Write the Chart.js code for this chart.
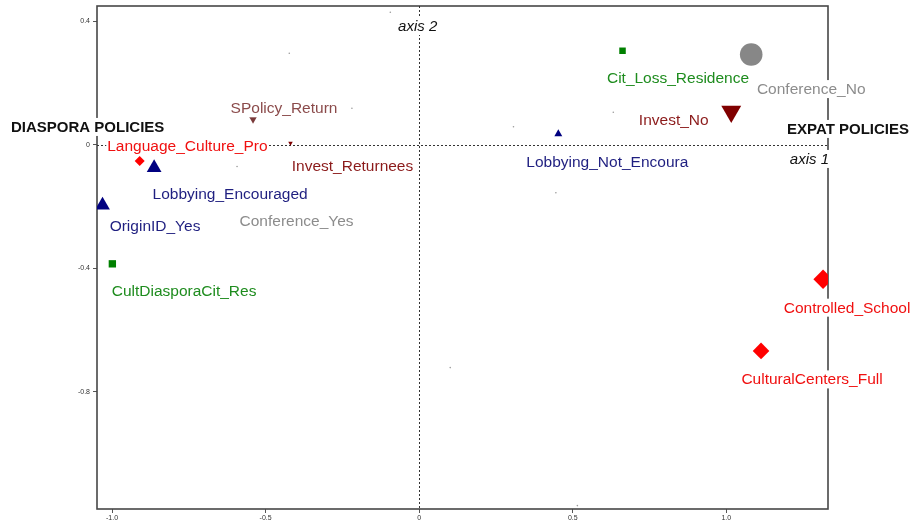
<!DOCTYPE html>
<html>
<head>
<meta charset="utf-8">
<script src="https://cdn.jsdelivr.net/npm/chart.js@4.4.1/dist/chart.umd.min.js"></script>
<style>
  html, body { margin: 0; padding: 0; background: #fff; }
  #wrap { width: 911px; height: 526px; position: relative; }
</style>
</head>
<body>
<div id="wrap"><canvas id="mcaChart"></canvas></div>
<script>
// modalities and their coordinates on the first two axes
const categories = ['Conference_No', 'Cit_Loss_Residence', 'Invest_No', 'Lobbying_Not_Encoura', 'SPolicy_Return',
    'Invest_Returnees', 'Language_Culture_Pro', 'Lobbying_Encouraged', 'OriginID_Yes', 'Conference_Yes',
    'CultDiasporaCit_Res', 'Controlled_School', 'CulturalCenters_Full'];
const axis1 = [1.081, 0.662, 1.016, 0.453, -0.541, -0.419, -0.910, -0.863, -1.031, -0.593, -0.999, 1.315, 1.113];
const axis2 = [0.293, 0.305, 0.108, 0.036, 0.083, 0.006, -0.052, -0.074, -0.195, -0.070, -0.385, -0.435, -0.667];

// unlabelled modalities (tiny dots)
const minorAxis1 = [-0.094, -0.423, -0.219, 0.307, 0.632, 0.445, 0.101, 0.515];
const minorAxis2 = [0.430, 0.297, 0.119, 0.059, 0.106, -0.155, -0.721, -1.168];

const xTicks = [-1, -0.5, 0, 0.5, 1];
const xTickLabels = ['-1.0', '-0.5', '0', '0.5', '1.0'];
const yTicks = [0.4, 0, -0.4, -0.8];
const yTickLabels = ['0.4', '0', '-0.4', '-0.8'];

// marker / label styling
const markerShape = ['circle', 'rect', 'triangle', 'triangle', 'triangle', 'triangle', 'rectRot', 'triangle', 'triangle', 'circle', 'rect', 'rectRot', 'rectRot'];
const markerRotation = [0, 0, 180, 0, 180, 180, 0, 0, 0, 0, 0, 0, 0];
const markerRadius = [11.3, 4.6, 11.5, 4.6, 4.4, 2.6, 5, 8.5, 8.5, 0.8, 5.2, 9.7, 8.3];
const markerColor = ['#878787', '#008000', '#800000', '#000080', '#7a3a3a', '#800000', '#ff0000', '#000080', '#000080', '#999999', '#008000', '#ff0000', '#ff0000'];
const labelColor = ['#8c8c8c', '#1e8c1e', '#8b1a1a', '#1f1f80', '#8b4b4b', '#8b1a1a', '#f01010', '#1f1f80', '#1f1f80', '#8c8c8c', '#1e8c1e', '#f01010', '#f01010'];
const labelOffset = [[60, 33.6], [55.5, 26], [-57.5, 7.5], [49, 27.5], [31, -12], [62, 22.5], [47.7, -16], [76, 25.5], [52.5, 20], [59.5, 54], [71.7, 26.3], [24, 27.4], [51, 27.5]];

const FONT = '"Liberation Sans", Arial, sans-serif';

const framePlugin = {
    id: 'frame',
    beforeDatasetsDraw(chart) {
        const { ctx, chartArea: a, scales } = chart;
        const x0 = scales.x.getPixelForValue(0);
        const y0 = scales.y.getPixelForValue(0);
        ctx.save();
        ctx.strokeStyle = '#474747';
        ctx.lineWidth = 1.6;
        ctx.strokeRect(a.left, a.top, a.right - a.left, a.bottom - a.top);
        ctx.lineWidth = 1;
        ctx.strokeStyle = '#333';
        ctx.setLineDash([2, 2]);
        ctx.beginPath();
        ctx.moveTo(a.left, Math.round(y0) + 0.5);
        ctx.lineTo(a.right, Math.round(y0) + 0.5);
        ctx.moveTo(Math.round(x0) + 0.5, a.top);
        ctx.lineTo(Math.round(x0) + 0.5, a.bottom);
        ctx.stroke();
        ctx.restore();
    }
};

// text with a white box behind it (hides the lines it crosses)
const drawBoxedText = (ctx, text, x, y, align) => {
    const w = ctx.measureText(text).width;
    let left = x - w / 2;
    if (align === 'left') left = x;
    if (align === 'right') left = x - w;
    const fill = ctx.fillStyle;
    ctx.fillStyle = '#fff';
    ctx.fillRect(left - 1, y - 8, w + 2, 18);
    ctx.fillStyle = fill;
    ctx.textAlign = align || 'center';
    ctx.fillText(text, x, y + 1.6);
};

const labelPlugin = {
    id: 'labels',
    afterDatasetsDraw(chart) {
        const { ctx, chartArea: a, scales } = chart;
        const x0 = scales.x.getPixelForValue(0);
        const y0 = scales.y.getPixelForValue(0);
        ctx.save();
        ctx.textBaseline = 'middle';
        ctx.font = '15.5px ' + FONT;
        categories.forEach((name, i) => {
            const px = scales.x.getPixelForValue(axis1[i]) + labelOffset[i][0];
            const py = scales.y.getPixelForValue(axis2[i]) + labelOffset[i][1];
            ctx.fillStyle = labelColor[i];
            drawBoxedText(ctx, name, px, py);
        });

        ctx.fillStyle = '#111';
        ctx.font = 'bold 15px ' + FONT;
        drawBoxedText(ctx, 'DIASPORA POLICIES', 11, y0 - 19, 'left');
        drawBoxedText(ctx, 'EXPAT POLICIES', 909, y0 - 17, 'right');
        ctx.font = 'italic 15px ' + FONT;
        drawBoxedText(ctx, 'axis 1', a.right + 1, y0 + 13, 'right');
        drawBoxedText(ctx, 'axis 2', x0 - 1.5, a.top + 19, 'center');
        ctx.restore();
    }
};

const ctx = document.getElementById('mcaChart');
new Chart(ctx, {
    type: 'scatter',
    data: {
        datasets: [
            {
                data: axis1.map((v, i) => ({ x: v, y: axis2[i] })),
                pointStyle: markerShape,
                pointRotation: markerRotation,
                pointRadius: markerRadius,
                backgroundColor: markerColor,
                borderWidth: 0
            },
            {
                data: minorAxis1.map((v, i) => ({ x: v, y: minorAxis2[i] })),
                pointStyle: 'circle',
                pointRadius: 0.8,
                backgroundColor: '#9a9a9a',
                borderWidth: 0
            }
        ]
    },
    options: {
        responsive: true,
        maintainAspectRatio: false,
        animation: false,
        events: [],
        layout: { autoPadding: false, padding: { top: 6, right: 83, left: 0, bottom: 0 } },
        plugins: { legend: { display: false }, tooltip: { enabled: false } },
        scales: {
            x: {
                type: 'linear',
                min: -1.049,
                max: 1.331,
                afterBuildTicks: s => { s.ticks = xTicks.map(v => ({ value: v })); },
                afterFit: s => {
                    s.height = 17;
                    s.paddingLeft = 0;
                    s.paddingRight = 0;
                },
                ticks: {
                    callback: (v, i) => xTickLabels[i],
                    font: { size: 7, family: FONT },
                    color: '#333',
                    padding: 1,
                    maxRotation: 0,
                    autoSkip: false
                },
                grid: { drawOnChartArea: false, drawTicks: true, tickLength: 4, color: '#555' },
                border: { display: false }
            },
            y: {
                type: 'linear',
                min: -1.179,
                max: 0.450,
                afterBuildTicks: s => { s.ticks = yTicks.map(v => ({ value: v })); },
                afterFit: s => {
                    s.width = 97;
                    s.paddingTop = 0;
                    s.paddingBottom = 0;
                },
                ticks: {
                    callback: (v, i) => yTickLabels[i],
                    font: { size: 7, family: FONT },
                    color: '#333',
                    padding: 3,
                    autoSkip: false
                },
                grid: { drawOnChartArea: false, drawTicks: true, tickLength: 4, color: '#555' },
                border: { display: false }
            }
        }
    },
    plugins: [framePlugin, labelPlugin]
});
</script>
</body>
</html>
